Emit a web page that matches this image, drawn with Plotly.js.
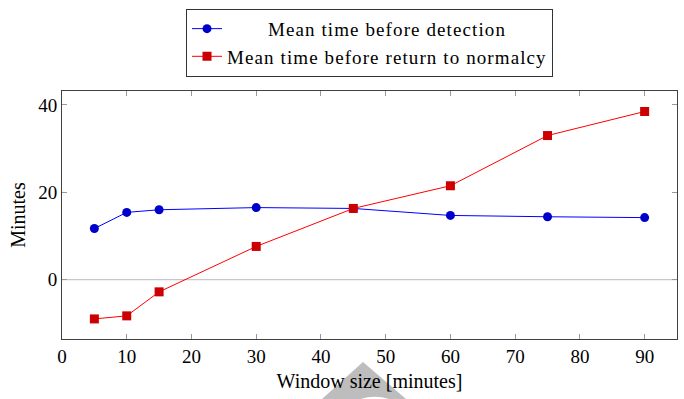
<!DOCTYPE html>
<html>
<head>
<meta charset="utf-8">
<script src="https://cdn.plot.ly/plotly-3.0.1.min.js"></script>
<style>html,body{margin:0;padding:0;background:#fff;}#chart{width:684px;height:399px;}
.legendtext{letter-spacing:1.1px;}</style>
</head>
<body>
<div id="chart"></div>
<script>
const windowSizes = [5, 10, 15, 30, 45, 60, 75, 90];
const detectionTime = [11.7, 15.4, 16.0, 16.5, 16.3, 14.7, 14.4, 14.2];
const normalcyTime = [-9.0, -8.3, -2.8, 7.6, 16.3, 21.5, 33.0, 38.5];
const seriesNames = ['\u00a0\u00a0\u00a0\u00a0\u00a0\u00a0\u00a0Mean time before detection', 'Mean time before return to normalcy'];
const xTicks = [0, 10, 20, 30, 40, 50, 60, 70, 80, 90];
const yTicks = [0, 20, 40];

const font = 'Liberation Serif';
const traces = [
  {x: windowSizes, y: detectionTime, name: seriesNames[0], mode: 'lines+markers', type: 'scatter',
   line: {color: '#0000ff', width: 1}, marker: {symbol: 'circle', size: 9, color: '#0000cc'}},
  {x: windowSizes, y: normalcyTime, name: seriesNames[1], mode: 'lines+markers', type: 'scatter',
   line: {color: '#ff0000', width: 1}, marker: {symbol: 'square', size: 9, color: '#cc0000'}}
];
function axisBase() {
  return {showline: true, linecolor: '#404040', linewidth: 1, mirror: 'allticks', ticks: 'inside', ticklen: 5, tickcolor: '#999',
          tickfont: {family: 'Liberation Serif', size: 19, color: '#000'}, zeroline: false, showgrid: false};
}
const xaxis = axisBase();
Object.assign(xaxis, {range: [0, 95], tickmode: 'array', tickvals: xTicks, ticktext: xTicks.map(String), title: {text: 'Window size [minutes]', font: {family: font, size: 20}, standoff: 8}});
const yaxis = axisBase();
Object.assign(yaxis, {range: [-13.6, 43.2], tickmode: 'array', tickvals: yTicks, ticktext: yTicks.map(String), title: {text: 'Minutes', font: {family: font, size: 20}, standoff: 7}});
const layout = {
  width: 684, height: 399,
  margin: {l: 62, r: 7, t: 91, b: 60},
  paper_bgcolor: '#fff', plot_bgcolor: '#fff',
  font: {family: font, color: '#000', size: 19},
  showlegend: true,
  legend: {x: 0.5, xanchor: 'center', xref: 'paper', y: 0.978, yref: 'container', yanchor: 'top', bordercolor: '#333', borderwidth: 1, font: {family: font, size: 19}, tracegroupgap: 0, itemwidth: 30},
  xaxis: xaxis,
  yaxis: yaxis,
  shapes: [
    {type: 'line', xref: 'paper', x0: 0, x1: 1, yref: 'y', y0: 0, y1: 0, line: {color: '#c8c8c8', width: 1.2}, layer: 'below'},
    {type: 'path', xref: 'paper', yref: 'paper', path: 'M0.4228,-0.2419L0.4894,-0.0927L0.5593,-0.2419Z', fillcolor: '#bdbdbd', line: {width: 0}, layer: 'below'},
    {type: 'circle', xref: 'paper', yref: 'paper', x0: 0.4780, x1: 0.5390, y0: -0.2900, y1: -0.2330, fillcolor: '#ffffff', line: {width: 0}, layer: 'below'}
  ]
};
Plotly.newPlot('chart', traces, layout, {displayModeBar: false, staticPlot: true});
</script>
</body>
</html>
